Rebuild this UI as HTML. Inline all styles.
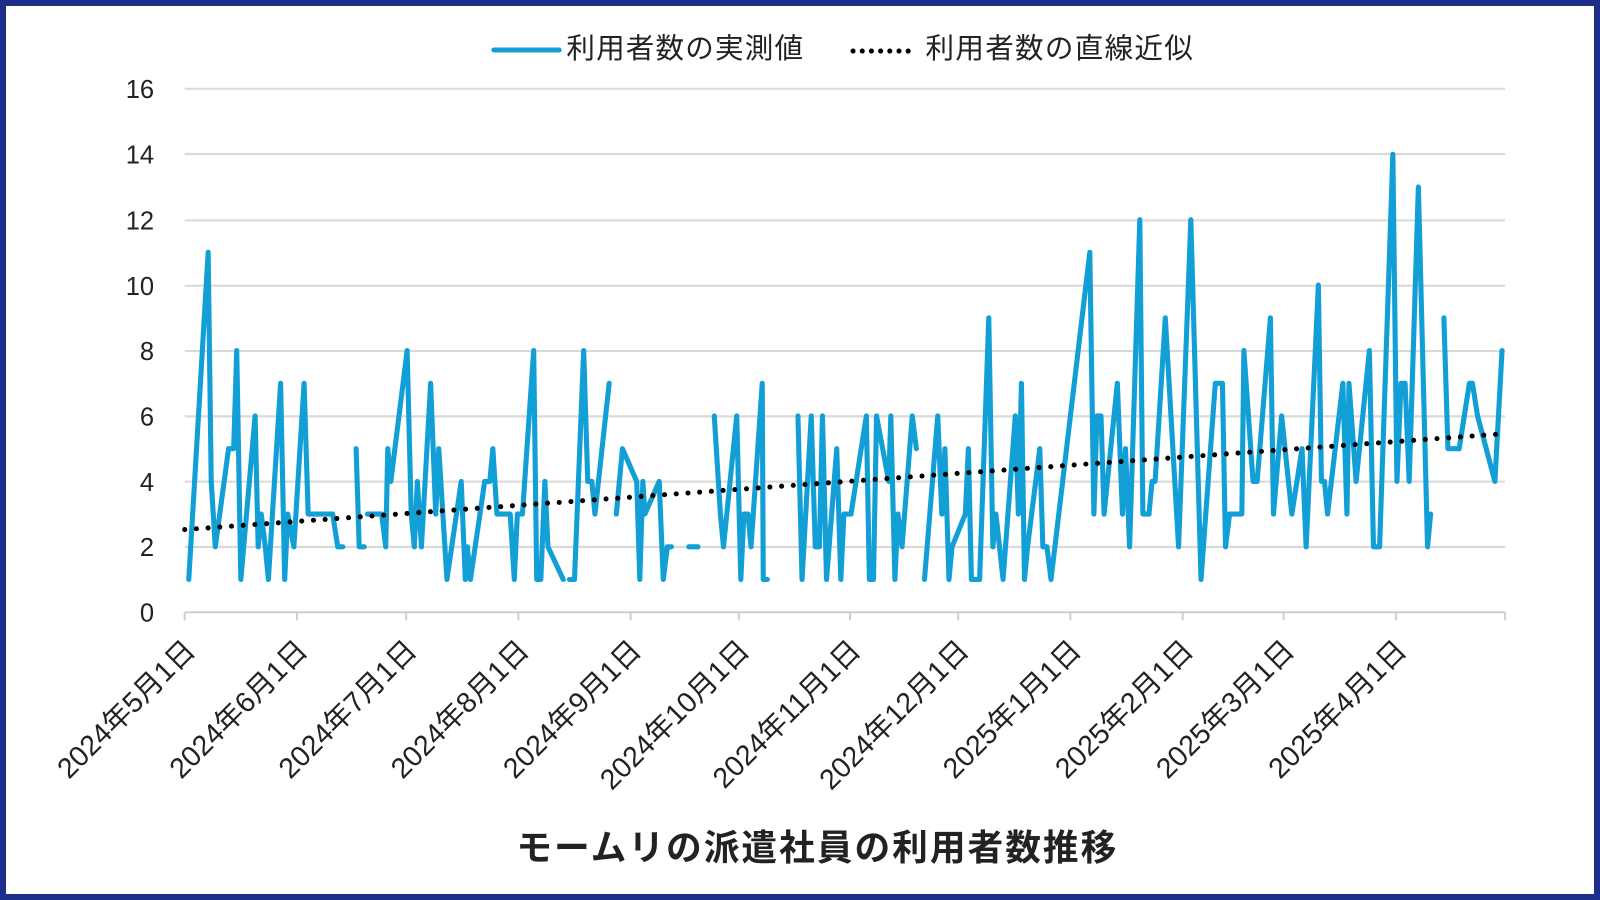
<!DOCTYPE html>
<html><head><meta charset="utf-8"><style>
html,body{margin:0;padding:0;background:#fff}
#f{width:1600px;height:900px;box-sizing:border-box;border:6px solid #1f2d8a;position:relative;overflow:hidden}
svg{position:absolute;left:-6px;top:-6px}
text{font-family:"Liberation Sans","Noto Sans CJK JP",sans-serif;fill:#222}
</style></head><body><div id="f">
<svg width="1600" height="900" viewBox="0 0 1568 882">
<g stroke="#d9d9d9" stroke-width="2">
<line x1="181" x2="1475" y1="600" y2="600" stroke="#cfcfcf"/>
<line x1="181" x2="1475" y1="536" y2="536"/><line x1="181" x2="1475" y1="472" y2="472"/>
<line x1="181" x2="1475" y1="408" y2="408"/><line x1="181" x2="1475" y1="344" y2="344"/>
<line x1="181" x2="1475" y1="280" y2="280"/><line x1="181" x2="1475" y1="216" y2="216"/>
<line x1="181" x2="1475" y1="151" y2="151"/><line x1="181" x2="1475" y1="87" y2="87"/>
</g>
<g stroke="#cfcfcf" stroke-width="2">
<line x1="181" x2="181" y1="600" y2="608"/><line x1="291" x2="291" y1="600" y2="608"/><line x1="398" x2="398" y1="600" y2="608"/><line x1="508" x2="508" y1="600" y2="608"/><line x1="618" x2="618" y1="600" y2="608"/><line x1="724" x2="724" y1="600" y2="608"/><line x1="833" x2="833" y1="600" y2="608"/><line x1="939" x2="939" y1="600" y2="608"/><line x1="1049" x2="1049" y1="600" y2="608"/><line x1="1159" x2="1159" y1="600" y2="608"/><line x1="1258" x2="1258" y1="600" y2="608"/><line x1="1368" x2="1368" y1="600" y2="608"/><line x1="1475" x2="1475" y1="600" y2="608"/>
</g>
<g font-size="25" text-anchor="end">
<text x="151" y="609">0</text><text x="151" y="545">2</text><text x="151" y="481">4</text><text x="151" y="417">6</text><text x="151" y="353">8</text><text x="151" y="289">10</text><text x="151" y="225">12</text><text x="151" y="160">14</text><text x="151" y="96">16</text>
</g>
<g font-size="28" text-anchor="end">
<text transform="translate(193,639) rotate(-45)">2024年5月1日</text>
<text transform="translate(303,639) rotate(-45)">2024年6月1日</text>
<text transform="translate(410,639) rotate(-45)">2024年7月1日</text>
<text transform="translate(520,639) rotate(-45)">2024年8月1日</text>
<text transform="translate(630,639) rotate(-45)">2024年9月1日</text>
<text transform="translate(736,639) rotate(-45)">2024年10月1日</text>
<text transform="translate(845,639) rotate(-45)">2024年11月1日</text>
<text transform="translate(951,639) rotate(-45)">2024年12月1日</text>
<text transform="translate(1061,639) rotate(-45)">2025年1月1日</text>
<text transform="translate(1171,639) rotate(-45)">2025年2月1日</text>
<text transform="translate(1270,639) rotate(-45)">2025年3月1日</text>
<text transform="translate(1380,639) rotate(-45)">2025年4月1日</text>
</g>
<g id="d" fill="none" stroke="#129fd6" stroke-width="5" stroke-linejoin="round" stroke-linecap="round">
<polyline points="185,1 204,11 207,4 211,2 224,5 229,5 232,8 236,1 250,6 253,2 256,3 260,2 263,1 275,7 279,1 282,3 288,2 298,7 302,3 326,3 331,2 336,2"/>
<polyline points="349,5 352,2 357,2"/>
<polyline points="360,3 374,3 378,2 380,5 383,4 399,8 403,3 406,2 409,4 413,2 422,7 427,3 430,5 434,3 438,1 452,4 456,1 458,2 461,1 475,4 480,4 483,5 487,3 500,3 504,1 507,3 512,3 523,8 526,1 530,1 534,4 537,2 552,1"/>
<polyline points="558,1 563,1 572,8 576,4 580,4 583,3 597,7"/>
<polyline points="604,3 610,5 624,4 627,1 630,4 632,3 646,4 650,1 654,2 658,2"/>
<polyline points="675,2 684,2"/>
<polyline points="700,6 706,3 709,2 722,6 726,1 729,3 733,3 736,2 747,7 748,1 752,1"/>
<polyline points="782,6 786,1 795,6 799,2 803,2 806,6 810,1 820,5 824,1 827,3 834,3 849,6 852,1 856,1 859,6 871,4 873,6 877,1 880,3 884,2 894,6 898,5"/>
<polyline points="906,1 919,6 923,3 926,5 930,1 933,2 946,3 949,5 952,1 957,1 960,1 969,9 973,2 976,3 983,1 995,6 998,3 1001,7 1004,1 1007,2 1019,5 1022,2 1026,2 1030,1 1068,11 1072,3 1075,6 1079,6 1082,3 1095,7 1100,3 1103,5 1107,2 1117,12 1120,3 1126,3 1129,4 1132,4 1142,9 1155,2 1167,12 1177,1 1191,7 1198,7 1201,2 1205,3 1217,3 1219,8 1228,4 1232,4 1245,9 1248,3 1256,6 1266,3 1276,5 1280,2 1292,10 1295,4 1298,4 1301,3 1316,7 1320,3 1322,7 1329,4 1342,8 1346,2 1352,2 1365,14 1369,4 1373,7 1377,7 1381,4 1390,13 1399,2 1402,3"/>
<polyline points="1415,9 1419,5 1430,5 1440,7 1443,7 1448,6 1465,4 1472,8"/>
</g>
<line x1="181" y1="519" x2="1475" y2="425" stroke="#000" stroke-width="5" stroke-dasharray="0 11.5" stroke-linecap="round"/>
<line x1="484" y1="49" x2="548" y2="49" stroke="#129fd6" stroke-width="5" stroke-linecap="round"/>
<text x="555" y="57" font-size="28" textLength="232">利用者数の実測値</text>
<line x1="836" y1="50" x2="898" y2="50" stroke="#000" stroke-width="5" stroke-dasharray="0 9" stroke-linecap="round"/>
<text x="907" y="57" font-size="28" textLength="262">利用者数の直線近似</text>
<text x="800" y="843" font-size="35" font-weight="bold" text-anchor="middle" textLength="588">モームリの派遣社員の利用者数推移</text>
</svg></div>
<script>
document.querySelectorAll('#d polyline').forEach(function(p){
 var pts=p.getAttribute('points').trim().split(/\s+/).map(function(s){var a=s.split(',');return a[0]+','+(600-parseFloat(a[1])*32.06).toFixed(1);});
 p.setAttribute('points',pts.join(' '));
});
</script>
</body></html>
